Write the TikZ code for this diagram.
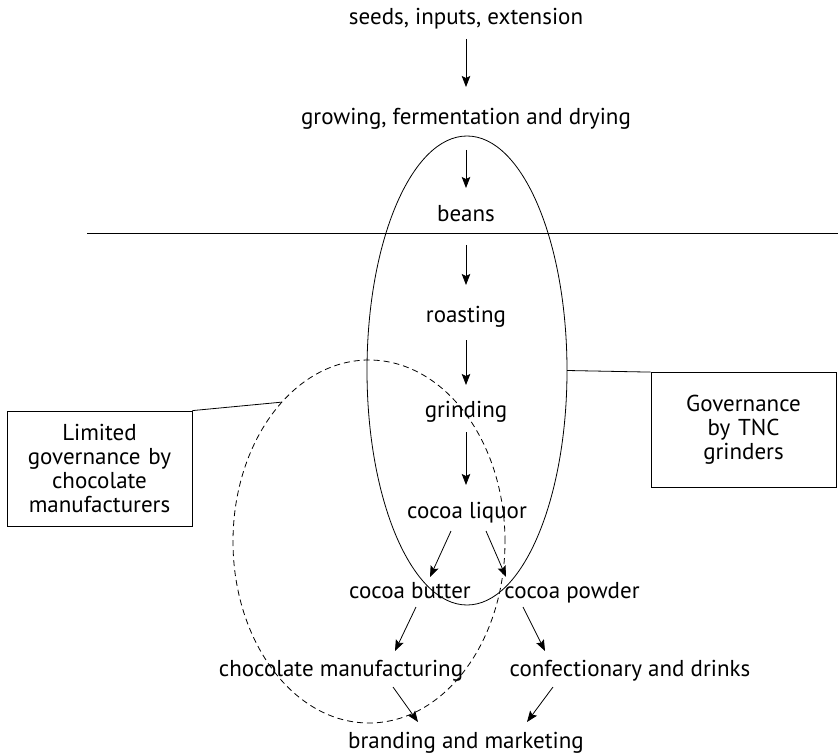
\documentclass[tikz,border=0pt]{standalone}
\usepackage{fontspec}
\setmainfont{PT Sans}
\usetikzlibrary{arrows.meta,shapes.geometric}
\begin{document}
\begin{tikzpicture}[x=1pt,y=-1pt,
  every node/.style={font=\fontsize{23}{24}\selectfont},
  stage/.style={anchor=base,inner sep=0pt},
  flow/.style={-{Stealth[length=11pt,width=8.5pt,inset=2pt]},line width=0.8pt},
  govbox/.style={draw,line width=0.8pt,minimum width=185pt,minimum height=115pt,
    align=center,inner sep=0pt,text width=180pt},
  zone/.style={ellipse,inner sep=0pt,outer sep=0pt,line width=0.8pt},
  link/.style={line width=0.8pt}]
\useasboundingbox (0,0) rectangle (838,754);

% chain stages
\node[stage] (seeds)  at (466,25)  {seeds, inputs, extension};
\node[stage] (grow)   at (466,125) {growing, fermentation and drying};
\node[stage] (beans)  at (466,222) {beans};
\node[stage] (roast)  at (466,322) {roasting};
\node[stage] (grind)  at (466,417) {grinding};
\node[stage] (liquor) at (467,518) {cocoa liquor};
\node[stage] (butter) at (410,598) {cocoa butter};
\node[stage] (powder) at (572,598) {cocoa powder};
\node[stage] (chocm)  at (341,676) {chocolate manufacturing};
\node[stage] (conf)   at (630,676) {confectionary and drinks};
\node[stage] (brand)  at (466,748) {branding and marketing};

% producer / processor divide
\coordinate (divL) at (87,233);
\coordinate (divR) at (838,233);
\draw[link] (divL) -- (divR);

% flow arrows
\draw[flow] ([shift={(0,14)}]seeds.base) -- ([shift={(0,-38)}]grow.base);
\draw[flow] ([shift={(0,25)}]grow.base) -- ([shift={(0,-34)}]beans.base);
\draw[flow] ([shift={(0,23)}]beans.base) -- ([shift={(0,-37)}]roast.base);
\draw[flow] ([shift={(0,18)}]roast.base) -- ([shift={(0,-32)}]grind.base);
\draw[flow] ([shift={(0,15)}]grind.base) -- ([shift={(-1,-33)}]liquor.base);
\draw[flow] ([shift={(-16,13)}]liquor.base) -- ([shift={(20,-21)}]butter.base);
\draw[flow] ([shift={(19,13)}]liquor.base) -- ([shift={(-66,-21)}]powder.base);
\draw[flow] ([shift={(6,9)}]butter.base) -- ([shift={(54,-25)}]chocm.base);
\draw[flow] ([shift={(-49,9)}]powder.base) -- ([shift={(-85,-25)}]conf.base);
\draw[flow] ([shift={(52,11)}]chocm.base) -- ([shift={(-48,-26)}]brand.base);
\draw[flow] ([shift={(-77,11)}]conf.base) -- ([shift={(61,-26)}]brand.base);

% governance zones
\node[zone,draw,minimum width=200pt,minimum height=469pt] (tnc) at (467,370.5) {};
\node[zone,draw,dashed,dash pattern=on 6pt off 4pt,minimum width=272pt,minimum height=363pt] (mfr) at (369,541.5) {};

% governance labels
\node[govbox] (tncbox) at (743.5,430) {Governance\\by TNC\\grinders};
\node[govbox] (mfrbox) at (99.5,468.5) {Limited\\governance by\\chocolate\\manufacturers};
\draw[link] (tncbox.north west) -- (tnc.east);
\draw[link] (mfrbox.north east) -- (mfr.122);
\end{tikzpicture}
\end{document}
